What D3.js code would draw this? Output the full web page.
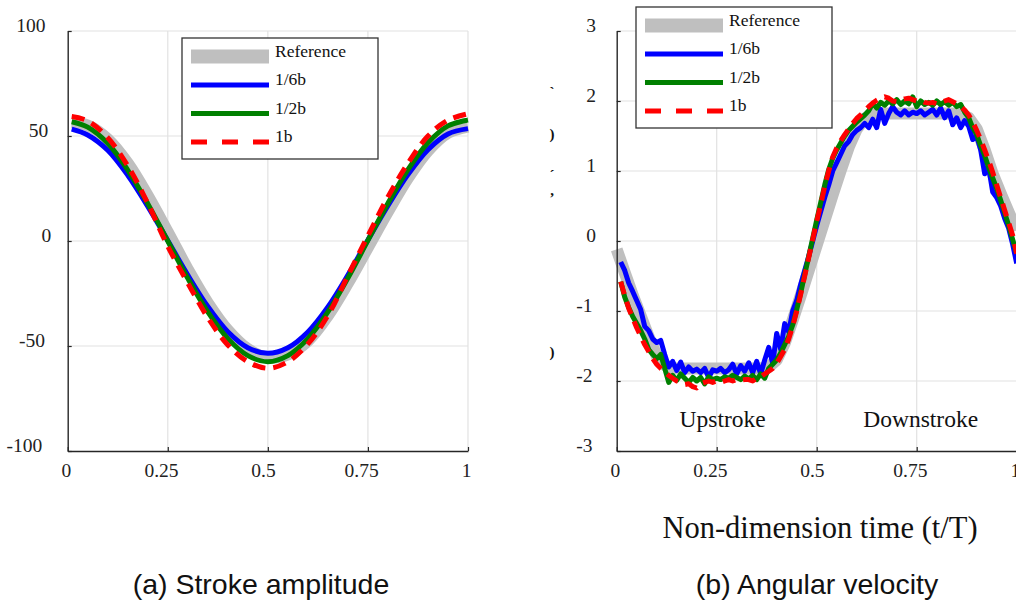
<!DOCTYPE html>
<html>
<head>
<meta charset="utf-8">
<script src="https://cdn.jsdelivr.net/npm/d3@7/dist/d3.min.js"></script>
<style>
  body { margin: 0; background: #fff; }
  svg { display: block; }
</style>
</head>
<body>
<div class="chart"></div>
<script>
const width = 1016;
const height = 605;

// ---- data ----
const legendLabels = ['Reference', '1/6b', '1/2b', '1b'];
const xTicks = [0, 0.25, 0.5, 0.75, 1];
const xTickLabels = ['0', '0.25', '0.5', '0.75', '1'];
const strokeTicks = [-100, -50, 0, 50, 100];
const velTicks = [-3, -2, -1, 0, 1, 2, 3];

// (a) stroke amplitude
const tStroke = [0.01, 0.05, 0.1, 0.15, 0.2, 0.25, 0.3, 0.35, 0.4, 0.45, 0.5,
  0.55, 0.6, 0.65, 0.7, 0.75, 0.8, 0.85, 0.9, 0.95, 1.0];
const strokeRef = [56.5, 55, 48.5, 37, 21.5, 4.2, -13.5, -29.5, -42.5, -51.5, -55.5,
  -54, -47.5, -35.5, -20, -3, 14, 30, 43, 51.5, 54.5];
const stroke16 = [53.3, 50.5, 43.2, 31.3, 16.5, 0.2, -16.2, -31.2, -43.2, -50.8, -53.5,
  -50.8, -43.3, -31.4, -16.2, 0.5, 16.8, 31.6, 43.5, 51, 53.5];
const stroke12 = [56.8, 54.2, 46.5, 33.8, 17.8, 0, -17.8, -33.8, -46.5, -54.6, -57.5,
  -54.6, -46.5, -33.8, -17.6, 0.3, 18, 34, 46.8, 54.8, 57.6];
const stroke1 = [59.3, 57.2, 49.2, 35.8, 18, -2.5, -20, -36.5, -49.5, -57.5, -60.6,
  -57.5, -49, -35.5, -16.5, 2.5, 21, 37, 50, 57.6, 60.6];

// (b) angular velocity
const tVelRef = [0, 0.02, 0.04, 0.06, 0.08, 0.1, 0.12, 0.14, 0.16, 0.18, 0.2,
  0.22, 0.24, 0.26, 0.28, 0.3, 0.32, 0.34, 0.36, 0.38, 0.4,
  0.42, 0.44, 0.46, 0.48, 0.5, 0.52, 0.54, 0.56, 0.58, 0.6,
  0.62, 0.64, 0.66, 0.68, 0.7, 0.72, 0.74, 0.76, 0.78, 0.8,
  0.82, 0.84, 0.86, 0.88, 0.9, 0.92, 0.94, 0.96, 0.98, 1.0];
const velRef = [-0.12, -0.45, -0.77, -1.07, -1.37, -1.64, -1.77, -1.82, -1.82, -1.82, -1.82,
  -1.82, -1.82, -1.82, -1.82, -1.82, -1.82, -1.82, -1.82, -1.80, -1.70,
  -1.46, -1.13, -0.78, -0.42, -0.06, 0.30, 0.66, 1.01, 1.34, 1.60,
  1.75, 1.80, 1.82, 1.82, 1.82, 1.82, 1.82, 1.82, 1.82, 1.82,
  1.82, 1.82, 1.81, 1.76, 1.60, 1.30, 0.96, 0.68, 0.41, 0.15];

const tVel = [0.01, 0.02, 0.03, 0.04, 0.05, 0.06, 0.07, 0.08, 0.09, 0.10,
  0.11, 0.12, 0.13, 0.14, 0.15, 0.16, 0.17, 0.18, 0.19, 0.20,
  0.21, 0.22, 0.23, 0.24, 0.25, 0.26, 0.27, 0.28, 0.29, 0.30,
  0.31, 0.32, 0.33, 0.34, 0.35, 0.36, 0.37, 0.38, 0.39, 0.40,
  0.41, 0.42, 0.43, 0.44, 0.45, 0.46, 0.47, 0.48, 0.49, 0.50,
  0.51, 0.52, 0.53, 0.54, 0.55, 0.56, 0.57, 0.58, 0.59, 0.60,
  0.61, 0.62, 0.63, 0.64, 0.65, 0.66, 0.67, 0.68, 0.69, 0.70,
  0.71, 0.72, 0.73, 0.74, 0.75, 0.76, 0.77, 0.78, 0.79, 0.80,
  0.81, 0.82, 0.83, 0.84, 0.85, 0.86, 0.87, 0.88, 0.89, 0.90,
  0.91, 0.92, 0.93, 0.94, 0.95, 0.96, 0.97, 0.98, 0.99, 1.00];
const vel16 = [-0.30, -0.42, -0.60, -0.72, -0.85, -0.98, -1.22, -1.28, -1.40, -1.45,
  -1.42, -1.62, -1.80, -1.72, -1.85, -1.73, -1.88, -1.80, -1.86, -1.83,
  -1.88, -1.82, -1.95, -1.84, -1.86, -1.82, -1.88, -1.84, -1.76, -1.90,
  -1.78, -1.86, -1.74, -1.88, -1.72, -1.90, -1.70, -1.52, -1.75, -1.32,
  -1.55, -1.18, -1.30, -1.00, -0.85, -0.62, -0.42, -0.22, 0.00, 0.22,
  0.42, 0.62, 0.80, 1.00, 1.12, 1.24, 1.36, 1.42, 1.52, 1.58,
  1.62, 1.68, 1.62, 1.74, 1.62, 1.88, 1.68, 1.82, 1.92, 1.84,
  1.80, 1.86, 1.80, 1.84, 1.82, 1.86, 1.80, 1.84, 1.88, 1.80,
  1.90, 1.76, 1.86, 1.66, 1.76, 1.62, 1.72, 1.64, 1.45, 1.50,
  1.30, 0.96, 1.05, 0.70, 0.62, 0.50, 0.32, 0.18, -0.05, -0.32];
const vel12 = [-0.58, -0.80, -0.95, -1.08, -1.18, -1.28, -1.40, -1.55, -1.62, -1.68,
  -1.62, -1.82, -2.02, -1.92, -1.99, -1.90, -1.96, -2.02, -1.95, -2.00,
  -1.95, -2.04, -1.94, -1.98, -1.96, -1.98, -1.94, -1.96, -1.92, -1.95,
  -1.98, -1.93, -1.97, -1.92, -1.98, -1.90, -1.96, -1.82, -1.76, -1.70,
  -1.60, -1.48, -1.36, -1.20, -0.98, -0.74, -0.48, -0.22, 0.04, 0.30,
  0.55, 0.80, 1.02, 1.18, 1.30, 1.40, 1.50, 1.58, 1.64, 1.70,
  1.75, 1.80, 1.86, 1.96, 1.90, 1.98, 1.94, 2.00, 1.96, 2.02,
  1.95, 2.00, 1.96, 2.06, 1.92, 2.00, 1.95, 1.98, 1.94, 2.00,
  1.95, 1.99, 1.94, 1.98, 1.92, 1.95, 1.84, 1.76, 1.62, 1.52,
  1.36, 1.22, 1.05, 0.90, 0.75, 0.58, 0.40, 0.22, 0.02, -0.18];
const vel1 = [-0.58, -0.78, -0.96, -1.10, -1.24, -1.36, -1.48, -1.58, -1.68, -1.76,
  -1.82, -1.87, -1.92, -1.96, -2.00, -2.02, -2.05, -2.04, -2.08, -2.10,
  -2.04, -2.02, -2.00, -2.02, -2.00, -2.02, -2.00, -1.98, -2.00, -1.98,
  -1.99, -1.98, -1.98, -2.00, -1.96, -1.94, -1.90, -1.86, -1.82, -1.75,
  -1.65, -1.55, -1.40, -1.22, -1.00, -0.76, -0.50, -0.24, 0.02, 0.28,
  0.52, 0.78, 1.00, 1.20, 1.33, 1.43, 1.52, 1.60, 1.68, 1.75,
  1.80, 1.86, 1.92, 1.97, 2.01, 2.04, 2.06, 2.04, 2.00, 1.99,
  2.02, 2.03, 2.04, 2.02, 2.00, 2.01, 1.98, 1.97, 1.98, 1.96,
  1.98, 2.00, 2.02, 1.99, 1.96, 1.92, 1.87, 1.80, 1.70, 1.58,
  1.45, 1.30, 1.15, 0.98, 0.80, 0.62, 0.44, 0.26, 0.08, -0.18];

// ---- styles ----
const serif = "'Liberation Serif', 'Times New Roman', serif";
const sans = "'Liberation Sans', Arial, sans-serif";
const color = {
  ref: '#bfbfbf',
  b16: '#0000ff',
  b12: '#008000',
  b1: '#ff0000',
  axis: '#262626',
  grid: '#e2e2e2',
};
const styles = [
  { color: color.ref, width: 12, dash: null, legendDash: null },
  { color: color.b16, width: 5, dash: null, legendDash: null },
  { color: color.b12, width: 5, dash: null, legendDash: null },
  { color: color.b1, width: 5, dash: '13,8', legendDash: '16,15' },
];

const svg = d3.select('.chart')
  .append('svg')
    .attr('width', width)
    .attr('height', height)
    .attr('viewBox', [0, 0, width, height]);

const plotTop = 31;
const plotBottom = 451;

drawPanel({
  left: 67.7,
  right: 468,
  yDomain: [-100, 100],
  yTicks: strokeTicks,
  series: [
    { t: tStroke, v: strokeRef },
    { t: tStroke, v: stroke16 },
    { t: tStroke, v: stroke12 },
    { t: tStroke, v: stroke1 },
  ],
  curve: d3.curveCatmullRom,
  legend: [182, 38],
});

drawPanel({
  left: 616.7,
  right: 1016.7,
  yDomain: [-3, 3],
  yTicks: velTicks,
  series: [
    { t: tVelRef, v: velRef },
    { t: tVel, v: vel16 },
    { t: tVel, v: vel12 },
    { t: tVel, v: vel1 },
  ],
  curve: d3.curveLinear,
  legend: [636, 7],
  notes: true,
});

function drawPanel(p) {
  const x = d3.scaleLinear().domain([0, 1]).range([p.left, p.right]);
  const y = d3.scaleLinear().domain(p.yDomain).range([plotBottom, plotTop]);
  const g = svg.append('g');

  // grid
  g.append('g').selectAll('line')
    .data(xTicks.slice(1))
    .join('line')
      .attr('x1', d => x(d)).attr('x2', d => x(d))
      .attr('y1', plotTop).attr('y2', plotBottom)
      .attr('stroke', color.grid).attr('stroke-width', 1.2);
  g.append('g').selectAll('line')
    .data(p.yTicks.slice(1))
    .join('line')
      .attr('x1', p.left).attr('x2', p.right)
      .attr('y1', d => y(d)).attr('y2', d => y(d))
      .attr('stroke', color.grid).attr('stroke-width', 1.2);

  if (p.notes) {
    g.append('text')
      .attr('x', x(0.265)).attr('y', 427)
      .attr('text-anchor', 'middle')
      .style('font-family', serif).style('font-size', '23.5px').attr('fill', '#111')
      .text('Upstroke');
    g.append('text')
      .attr('x', x(0.76)).attr('y', 427)
      .attr('text-anchor', 'middle')
      .style('font-family', serif).style('font-size', '23.5px').attr('fill', '#111')
      .text('Downstroke');
  }

  // series
  const line = d3.line()
    .x(d => x(d[0]))
    .y(d => y(d[1]))
    .curve(p.curve);

  p.series.forEach((s, i) => {
    const st = styles[i];
    g.append('path')
      .datum(s.t.map((t, k) => [t, s.v[k]]))
      .attr('d', line)
      .attr('fill', 'none')
      .attr('stroke', st.color)
      .attr('stroke-width', st.width)
      .attr('stroke-linejoin', 'round')
      .attr('stroke-dasharray', st.dash);
  });

  // axes
  const xAxis = d3.axisBottom(x)
    .tickValues(xTicks)
    .tickFormat((d, i) => xTickLabels[i])
    .tickSizeInner(-4)
    .tickSizeOuter(0);
  const yAxis = d3.axisLeft(y)
    .tickValues(p.yTicks)
    .tickSizeInner(-4)
    .tickSizeOuter(0);

  const gx = g.append('g')
    .attr('transform', `translate(0,${plotBottom})`)
    .call(xAxis);
  const gy = g.append('g')
    .attr('transform', `translate(${p.left},0)`)
    .call(yAxis);

  [gx, gy].forEach(a => {
    a.select('.domain').attr('stroke', color.axis).attr('stroke-width', 1.4);
    a.selectAll('.tick line').attr('stroke', color.axis).attr('stroke-width', 1.2);
    a.selectAll('text')
      .style('font-family', serif)
      .style('font-size', '19.5px')
      .attr('fill', '#222');
  });

  gx.selectAll('text')
    .attr('y', 12)
    .attr('dy', '0.71em')
    .attr('dx', function() { return -0.2 * this.getComputedTextLength(); });

  gy.selectAll('text')
    .attr('text-anchor', 'end')
    .attr('dy', '0.03em')
    .attr('x', function() { return -13.5 - 0.3 * this.getComputedTextLength(); })
    .text(d => d3.format('d')(d).replace('−', '-'));

  drawLegend(p.legend[0], p.legend[1]);
}

function drawLegend(lx, ly) {
  const lg = svg.append('g').attr('transform', `translate(${lx},${ly})`);
  lg.append('rect')
    .attr('width', 196)
    .attr('height', 121)
    .attr('fill', '#fff')
    .attr('stroke', '#333')
    .attr('stroke-width', 1.3);

  const rowY = [18.5, 47, 75.5, 104];
  legendLabels.forEach((label, i) => {
    const st = styles[i];
    lg.append('line')
      .attr('x1', 9).attr('x2', 87)
      .attr('y1', rowY[i]).attr('y2', rowY[i])
      .attr('stroke', st.color)
      .attr('stroke-width', i === 0 ? 14 : 5)
      .attr('stroke-dasharray', st.legendDash);
    lg.append('text')
      .attr('x', 93)
      .attr('y', rowY[i])
      .style('font-family', serif)
      .style('font-size', '17.5px')
      .attr('fill', '#111')
      .text(label);
  });
}

// stray marks left of panel (b)
const strayMarks = [['`', 92], [')', 134], ['´', 175], [',', 190], [')', 352]];
svg.append('g').selectAll('text')
  .data(strayMarks)
  .join('text')
    .attr('x', 552)
    .attr('y', d => d[1] + 5)
    .attr('text-anchor', 'middle')
    .style('font-family', serif)
    .style('font-size', '15px')
    .style('font-weight', 'bold')
    .attr('fill', '#111')
    .text(d => d[0]);

// bottom captions
svg.append('text')
  .attr('x', 820).attr('y', 538)
  .attr('text-anchor', 'middle')
  .style('font-family', serif).style('font-size', '30.5px').attr('fill', '#111')
  .text('Non-dimension time (t/T)');

svg.append('text')
  .attr('x', 261).attr('y', 594)
  .attr('text-anchor', 'middle')
  .style('font-family', sans).style('font-size', '28.5px').attr('fill', '#111')
  .text('(a) Stroke amplitude');

svg.append('text')
  .attr('x', 817).attr('y', 594)
  .attr('text-anchor', 'middle')
  .style('font-family', sans).style('font-size', '28.5px').attr('fill', '#111')
  .text('(b) Angular velocity');
</script>
</body>
</html>
